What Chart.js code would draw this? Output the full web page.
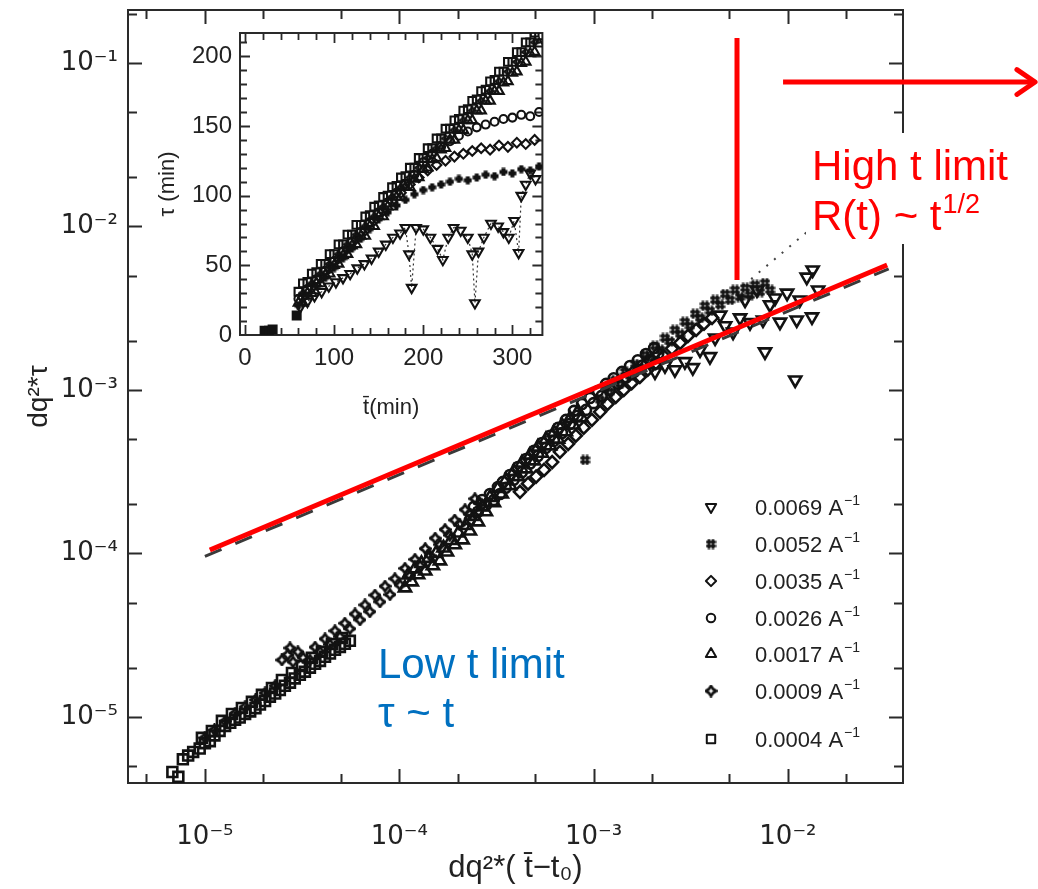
<!DOCTYPE html>
<html><head><meta charset="utf-8">
<script src="https://cdn.jsdelivr.net/npm/chart.js@4.4.1/dist/chart.umd.min.js"></script>
<style>
html,body{margin:0;padding:0;background:#fff;}
#wrap{position:relative;width:1038px;height:889px;overflow:hidden;}
#main{position:absolute;left:0;top:0;width:1038px;height:889px;}
#inset{position:absolute;left:120px;top:14px;width:430px;height:416px;}
</style></head><body>
<div id="wrap"><canvas id="main" width="1038" height="889"></canvas><canvas id="inset" width="430" height="416"></canvas></div>
<script>
// ---------------- DATA (main plot: dq²*(t̄−t0) vs dq²*τ) ----------------
const seriesLabels = ['0.0069', '0.0052', '0.0035', '0.0026', '0.0017', '0.0009', '0.0004'];
const unitLabel = 'A';
const unitSup = '−1';

const m69x = [2.07e-3,2.33e-3,2.62e-3,2.95e-3,3.24e-3,3.53e-3,3.97e-3,4.22e-3,4.48e-3,4.75e-3,5.22e-3,5.67e-3,6.02e-3,6.38e-3,6.93e-3,7.44e-3,7.62e-3,8.09e-3,8.58e-3,9.1e-3,9.9e-3,1.09e-2,1.11e-2,1.15e-2,1.25e-2,1.33e-2,1.34e-2,1.43e-2];
const m69y = [1.29e-3,1.41e-3,1.33e-3,1.49e-3,1.37e-3,1.76e-3,1.6e-3,2.08e-3,2.87e-3,2.47e-3,2.26e-3,2.76e-3,3.55e-3,2.58e-3,4.09e-3,2.68e-3,1.71e-3,3.32e-3,3.65e-3,2.6e-3,3.91e-3,1.15e-3,2.68e-3,3.55e-3,4.9e-3,2.8e-3,5.42e-3,4.09e-3];

const m52x = [9.04e-4,1.08e-3,1.21e-3,1.37e-3,1.54e-3,1.73e-3,1.95e-3,2.2e-3,2.47e-3,2.79e-3,3.13e-3,3.53e-3,3.97e-3,4.48e-3,5.04e-3,5.67e-3,6.38e-3,7.18e-3,8.09e-3,
  1.145e-3,1.29e-3,1.45e-3,1.634e-3,1.84e-3,2.07e-3,2.33e-3,2.62e-3,2.95e-3,3.33e-3,3.74e-3,4.22e-3,4.75e-3,5.34e-3,6.02e-3,6.77e-3,7.62e-3];
const m52y = [3.73e-4,8.69e-4,9.7e-4,1.09e-3,1.22e-3,1.37e-3,1.57e-3,1.76e-3,1.98e-3,2.2e-3,2.47e-3,2.76e-3,3.05e-3,3.32e-3,3.55e-3,3.7e-3,3.8e-3,3.97e-3,4.09e-3,
  1.028e-3,1.15e-3,1.29e-3,1.44e-3,1.64e-3,1.86e-3,2.08e-3,2.33e-3,2.61e-3,2.92e-3,3.27e-3,3.55e-3,3.86e-3,4.09e-3,4.21e-3,4.39e-3,4.51e-3];

const m35x = [4.18e-4,4.6e-4,5.06e-4,5.56e-4,6.12e-4,6.71e-4,7.4e-4,8.1e-4,8.9e-4,9.8e-4,1.08e-3,1.18e-3,1.3e-3,1.43e-3,1.57e-3,1.73e-3,1.9e-3,2.09e-3,2.3e-3,2.53e-3,2.79e-3,3.06e-3,3.37e-3,3.7e-3,4.07e-3];
const m35y = [2.38e-4,2.67e-4,2.95e-4,3.24e-4,3.62e-4,4.18e-4,4.68e-4,5.25e-4,5.88e-4,6.56e-4,7.35e-4,8.2e-4,9.05e-4,1.0e-3,1.1e-3,1.2e-3,1.33e-3,1.46e-3,1.61e-3,1.79e-3,1.94e-3,2.14e-3,2.33e-3,2.54e-3,2.76e-3];

const m26x = [2.31e-4,2.54e-4,2.79e-4,3.07e-4,3.3e-4,3.53e-4,3.88e-4,4.27e-4,4.71e-4,5.17e-4,5.68e-4,6.25e-4,6.87e-4,7.56e-4,8.3e-4,9.14e-4,1.0e-3,1.1e-3,1.21e-3,1.34e-3,1.47e-3,1.62e-3,1.78e-3,1.95e-3,2.15e-3,
  2.42e-4,2.67e-4,2.93e-4,3.22e-4,3.42e-4,3.71e-4,4.08e-4,4.49e-4,4.93e-4,5.43e-4,5.97e-4,6.56e-4,7.21e-4,7.93e-4,8.72e-4,9.58e-4,1.054e-3,1.16e-3,1.27e-3,1.4e-3,1.54e-3,1.69e-3,1.86e-3,2.05e-3];
const m26y = [1.6e-4,1.8e-4,1.97e-4,2.12e-4,2.31e-4,2.52e-4,2.82e-4,3.14e-4,3.55e-4,3.94e-4,4.42e-4,4.88e-4,5.45e-4,6.2e-4,6.95e-4,7.55e-4,8.3e-4,9.2e-4,1.0e-3,1.09e-3,1.19e-3,1.29e-3,1.41e-3,1.52e-3,1.66e-3,
  1.925e-4,2.12e-4,2.31e-4,2.55e-4,2.74e-4,3.02e-4,3.38e-4,3.78e-4,4.24e-4,4.74e-4,5.24e-4,5.86e-4,6.56e-4,7.45e-4,8.2e-4,8.93e-4,9.86e-4,1.089e-3,1.18e-3,1.29e-3,1.4e-3,1.52e-3,1.66e-3,1.807e-3];

const m17x = [1.07e-4,1.16e-4,1.25e-4,1.36e-4,1.49e-4,1.62e-4,1.76e-4,1.93e-4,2.12e-4,2.31e-4,2.54e-4,2.79e-4,3.07e-4,3.37e-4,3.72e-4,4.08e-4,4.49e-4,4.93e-4,5.42e-4,5.97e-4,6.56e-4,7.2e-4,7.9e-4,8.7e-4,
  1.115e-4,1.205e-4,1.301e-4,1.414e-4,1.545e-4,1.689e-4,1.845e-4,2.017e-4,2.204e-4,2.424e-4,2.665e-4,2.93e-4,3.22e-4,3.542e-4,3.893e-4,4.28e-4,4.707e-4,5.175e-4,5.69e-4,6.255e-4,6.877e-4,7.56e-4,8.31e-4];
const m17y = [6.15e-5,6.7e-5,7.4e-5,7.8e-5,8.4e-5,9.0e-5,1.02e-4,1.13e-4,1.21e-4,1.37e-4,1.56e-4,1.8e-4,2.04e-4,2.31e-4,2.6e-4,2.95e-4,3.29e-4,3.68e-4,4.1e-4,4.55e-4,5.0e-4,5.55e-4,6.1e-4,6.75e-4,
  7.39e-5,8.04e-5,8.68e-5,9.32e-5,1.0e-4,1.08e-4,1.2e-4,1.334e-4,1.483e-4,1.684e-4,1.925e-4,2.2e-4,2.498e-4,2.814e-4,3.173e-4,3.577e-4,4.0e-4,4.48e-4,4.98e-4,5.5e-4,6.07e-4,6.69e-4,7.38e-4];

const m09x = [1.0e-5,1.12e-5,1.27e-5,1.43e-5,1.61e-5,1.82e-5,2.04e-5,2.3e-5,2.49e-5,2.67e-5,2.84e-5,3.01e-5,3.2e-5,2.74e-5,3.47e-5,3.91e-5,4.4e-5,4.95e-5,5.57e-5,6.28e-5,7.06e-5,7.96e-5,8.96e-5,1.01e-4,1.135e-4,1.28e-4,1.44e-4,1.62e-4,1.82e-4,2.05e-4,2.31e-4,2.6e-4,3.69e-5,4.15e-5,4.67e-5,5.25e-5,5.92e-5,6.66e-5,7.5e-5,8.45e-5,9.5e-5,1.07e-4,1.205e-4,1.36e-4,1.53e-4,1.72e-4,1.93e-4,2.18e-4,2.45e-4];
const m09y = [7.45e-6,8.32e-6,9.4e-6,1.05e-5,1.15e-5,1.27e-5,1.4e-5,1.55e-5,2.23e-5,2.4e-5,2.17e-5,2.5e-5,2.3e-5,2.64e-5,2.23e-5,2.5e-5,2.77e-5,3.09e-5,3.46e-5,3.92e-5,4.4e-5,5.05e-5,5.6e-5,6.4e-5,7.3e-5,8.4e-5,9.7e-5,1.13e-4,1.29e-4,1.5e-4,1.74e-4,2.02e-4,2.67e-5,3.0e-5,3.36e-5,3.74e-5,4.26e-5,4.84e-5,5.56e-5,6.3e-5,7.0e-5,8.1e-5,9.2e-5,1.07e-4,1.24e-4,1.4e-4,1.6e-4,1.85e-4,2.16e-4];

const m04x = [6.8e-6,7.3e-6,7.7e-6,8.2e-6,8.7e-6,9.4e-6,1.0e-5,1.06e-5,1.12e-5,1.19e-5,1.27e-5,1.35e-5,1.43e-5,1.51e-5,1.61e-5,1.71e-5,1.82e-5,1.92e-5,2.04e-5,2.16e-5,2.3e-5,2.43e-5,2.58e-5,2.74e-5,2.9e-5,3.08e-5,3.27e-5,3.47e-5,3.69e-5,3.91e-5,4.15e-5,4.4e-5,4.67e-5,4.95e-5,5.25e-5,5.57e-5,
  9.65e-6,1.086e-5,1.223e-5,1.377e-5,1.55e-5,1.745e-5,1.965e-5,2.213e-5,2.491e-5,2.805e-5,3.158e-5,3.553e-5,4.0e-5,4.505e-5,5.07e-5];
const m04y = [4.6e-6,4.3e-6,5.5e-6,5.8e-6,6.1e-6,6.4e-6,6.9e-6,7.1e-6,7.7e-6,8.2e-6,8.8e-6,9.2e-6,9.6e-6,9.9e-6,1.04e-5,1.08e-5,1.13e-5,1.19e-5,1.25e-5,1.33e-5,1.39e-5,1.46e-5,1.55e-5,1.62e-5,1.72e-5,1.81e-5,1.89e-5,2.0e-5,2.11e-5,2.2e-5,2.33e-5,2.44e-5,2.57e-5,2.68e-5,2.8e-5,2.92e-5,
  7.44e-6,8.2e-6,9.46e-6,1.042e-5,1.135e-5,1.236e-5,1.364e-5,1.504e-5,1.683e-5,1.858e-5,2.05e-5,2.296e-5,2.5e-5,2.79e-5,3.04e-5];

// guide lines (main plot)
const fitX = [1.06e-5, 3.24e-2],  fitY = [1.05e-4, 5.81e-3];     // red t^1/2 line
const dashX = [1.0e-5, 3.3e-2],   dashY = [9.6e-5, 5.51e-3];     // dashed black line
const dotX = [4.5e-3, 1.3e-2],    dotY = [3.32e-3, 9.6e-3];      // dotted line
const vertX = [5.47e-3, 5.47e-3], vertY = [0.142, 4.71e-3];      // red vertical marker
const arrowX = [9.44e-3, 0.187],  arrowY = [7.65e-2, 7.65e-2];   // red arrow

// axis ranges / ticks (main)
const mainXRange = [4.02e-6, 3.91e-2];
const mainYRange = [3.94e-6, 0.211];
const mainXMajor = [1e-5, 1e-4, 1e-3, 1e-2];
const mainXLabels = ['10⁻⁵', '10⁻⁴', '10⁻³', '10⁻²'];
const mainYMajor = [1e-5, 1e-4, 1e-3, 1e-2, 1e-1];
const mainYLabels = ['10⁻⁵', '10⁻⁴', '10⁻³', '10⁻²', '10⁻¹'];
const mainXMinor = [5e-6, 2e-5, 5e-5, 2e-4, 5e-4, 2e-3, 5e-3, 2e-2];
const mainYMinor = [5e-6, 2e-5, 5e-5, 2e-4, 5e-4, 2e-3, 5e-3, 2e-2, 5e-2, 2e-1];

// ---------------- DATA (inset: t̄ vs τ, minutes) ----------------
const i69t = [62,70,78,86,94,102,110,118,126,134,142,150,158,166,174,180,184,187,192,200,208,216,222,228,234,242,250,255,258,262,268,276,284,290,296,302,307,310,315,320,326];
const i69tau = [20,24,28,31,35,38,41,44,48,51,55,60,65,70,73,77,58,34,77,76,70,62,54,70,77,75,70,58,23,60,70,80,78,74,70,82,59,100,108,116,112];
const i52t = [60,70,80,90,100,110,120,130,140,150,160,170,180,190,200,210,220,230,240,250,260,270,280,290,300,310,320,330];
const i52tau = [21,28,35,41,48,55,62,69,76,83,88,93,97,101,104,106,108,110,112,111,113,115,114,117,116,119,118,121];
const i35t = [65,75,85,95,105,115,125,135,145,155,165,175,185,195,205,215,225,235,245,255,265,275,285,295,305,315,325];
const i35tau = [27,34,41,48,55,62,69,75,82,89,96,102,108,113,118,122,125,128,130,132,134,133,136,135,138,137,140];
const i26t = [60,70,80,90,100,110,120,130,140,150,160,170,180,190,200,210,220,230,240,250,260,270,280,290,300,310,320,330];
const i26tau = [26,33,40,46,53,60,67,74,81,88,95,102,108,115,124,130,135,139,143,146,149,151,153,155,156,158,157,160];
const i17t = [60,70,80,90,100,110,120,130,140,150,160,170,180,190,200,210,220,230,240,250,260,270,280,290,300,310,320,330,
  65,75,85,95,105,115,125,135,145,155,165,175,185,195,205,215,225,235,245,255,265,275,285,295,305,315,325];
const i17tau = [23,30,37,43,50,57,64,71,78,85,92,99,106,112,119,126,133,140,147,154,161,168,175,181,188,195,202,209,
  23,30,37,44,51,58,65,71,78,85,92,99,106,113,120,127,134,140,147,154,161,168,175,182,189,196,203];
const i09t = [65,75,85,95,105,115,125,135,145,155,165,175,185,195,205,215,225,235,245,255,265,275,285,295,305,315,325];
const i09tau = [30,37,44,51,58,65,72,78,85,92,99,106,113,120,127,134,141,147,154,161,168,175,182,189,196,203,210];
const i04t = [60,70,80,90,100,110,120,130,140,150,160,170,180,190,200,210,220,230,240,250,260,270,280,290,300,310,320,330,
  65,75,85,95,105,115,125,135,145,155,165,175,185,195,205,215,225,235,245,255,265,275,285,295,305,315,325];
const i04tau = [31,38,45,51,58,65,72,79,86,93,100,107,114,120,127,134,141,148,155,162,169,176,183,189,196,203,210,215,
  37,44,51,58,65,72,79,85,92,99,106,113,120,127,134,141,148,154,161,168,175,182,189,196,203,210,217];
const iEarlyT = [22, 27, 31, 58];
const iEarlyTau = [3, 3, 4, 14];

const insetXRange = [-5.6, 333.7];
const insetYRange = [0, 216.7];
const insetXMajor = [0, 100, 200, 300];
const insetYMajor = [0, 50, 100, 150, 200];
const insetXMinor = [20,40,60,80,120,140,160,180,220,240,260,280,320];
const insetYMinor = [10,20,30,40,60,70,80,90,110,120,130,140,160,170,180,190,210];

// ---------------- TEXT ----------------
const mainXTitle = 'dq²*( t\u0304−t₀)';
const mainYTitle = 'dq²*τ';
const insetXTitle = 't\u0304(min)';
const insetYTitle = 'τ (min)';
const highText1 = 'High t limit', highText2 = 'R(t) ~ t', highSup = '1/2';
const lowText1 = 'Low t limit', lowText2 = 'τ ~ t';

// ---------------- STYLE ----------------
const FONT = "'Liberation Sans', Arial, Helvetica, sans-serif";
const TICKFONT = "'DejaVu Sans', 'Liberation Sans', sans-serif";
const INK = '#121212';
const RED = '#ff0000';
const BLUE = '#0070c0';
const CLEAR = 'rgba(255,255,255,0)';

function hashMarker(size, lw) {
  const c = document.createElement('canvas'); c.width = c.height = size;
  const g = c.getContext('2d'); g.strokeStyle = INK; g.lineWidth = lw;
  const a = Math.round(size * 0.3) + 0.5, b = Math.round(size * 0.7) - 0.5;
  g.beginPath();
  g.moveTo(a, 0.5); g.lineTo(a, size - 0.5); g.moveTo(b, 0.5); g.lineTo(b, size - 0.5);
  g.moveTo(0.5, a); g.lineTo(size - 0.5, a); g.moveTo(0.5, b); g.lineTo(size - 0.5, b);
  g.stroke(); return c;
}
function starMarker(size, lw) {
  const c = document.createElement('canvas'); c.width = c.height = size;
  const g = c.getContext('2d'); g.strokeStyle = INK; g.lineWidth = lw; g.lineJoin = 'round';
  const m = size / 2, R = size / 2 - lw / 2, r = R * 0.55;
  g.beginPath();
  for (let i = 0; i < 8; i++) {
    const ang = -Math.PI / 2 + i * Math.PI / 4, rad = i % 2 === 0 ? R : r;
    const px = m + rad * Math.cos(ang), py = m + rad * Math.sin(ang);
    if (i) g.lineTo(px, py); else g.moveTo(px, py);
  }
  g.closePath(); g.stroke(); return c;
}

const mainStyles = [
  { ps: 'triangle', rot: 180, r: 7 },
  { ps: hashMarker(11, 2.5), rot: 0, r: 6 },
  { ps: 'rectRot', rot: 0, r: 6 },
  { ps: 'circle', rot: 0, r: 5 },
  { ps: 'triangle', rot: 0, r: 7 },
  { ps: starMarker(13, 2.7), rot: 0, r: 6 },
  { ps: 'rect', rot: 0, r: 7 }
];
const insetStyles = [
  { ps: 'triangle', rot: 180, r: 5.5 },
  { ps: hashMarker(9, 2), rot: 0, r: 5 },
  { ps: 'rectRot', rot: 0, r: 4.8 },
  { ps: 'circle', rot: 0, r: 4 },
  { ps: 'triangle', rot: 0, r: 5.5 },
  { ps: starMarker(10, 2.2), rot: 0, r: 5 },
  { ps: 'rect', rot: 0, r: 5.5 }
];

const mk = (xs, ys) => xs.map((v, i) => ({ x: v, y: ys[i] }));
const lineDS = (xs, ys, color, width, dash, extra) => Object.assign({
  data: mk(xs, ys), showLine: true, pointRadius: 0, borderColor: color, borderWidth: width,
  borderDash: dash || [], fill: false, tension: 0, borderCapStyle: 'butt'
}, extra || {});

const mainSeries = [[m69x, m69y], [m52x, m52y], [m35x, m35y], [m26x, m26y], [m17x, m17y], [m09x, m09y], [m04x, m04y]];
const insetSeries = [[i69t, i69tau], [i52t, i52tau], [i35t, i35tau], [i26t, i26tau], [i17t, i17tau], [i09t, i09tau], [i04t, i04tau]];

const seriesDS = (pair, st, bw, label) => ({
  label: label, isSeries: true,
  data: mk(pair[0], pair[1]), showLine: false,
  pointStyle: st.ps, rotation: st.rot, pointRadius: st.r,
  pointBorderColor: INK, pointBackgroundColor: CLEAR, pointBorderWidth: bw
});

const mainDatasets = [
  lineDS(fitX, fitY, RED, 5),
  lineDS(vertX, vertY, RED, 5),
  lineDS(arrowX, arrowY, RED, 5, null, { clip: false, isArrow: true }),
  lineDS(dashX, dashY, '#3a3a3a', 3, [18, 15])
].concat(mainSeries.map((p, i) => seriesDS(p, mainStyles[i], 2.6, seriesLabels[i])))
 .concat([lineDS(dotX, dotY, '#444', 2, [2, 8])]);

// ---------------- PLUGINS ----------------
const zeroPad = s => { s.paddingTop = 0; s.paddingBottom = 0; s.paddingLeft = 0; s.paddingRight = 0; };

const framePlugin = {
  id: 'frame',
  beforeDatasetsDraw(chart, args, o) {
    const { ctx, chartArea: a, scales: { x, y } } = chart;
    ctx.save();
    ctx.strokeStyle = o.color; ctx.lineWidth = o.tickWidth; ctx.lineCap = 'butt';
    ctx.beginPath();
    const xt = o.xMajor.map(v => [v, o.majorLen]).concat(o.xMinor.map(v => [v, o.minorLen]));
    const yt = o.yMajor.map(v => [v, o.majorLen]).concat(o.yMinor.map(v => [v, o.minorLen]));
    xt.forEach(([v, L]) => {
      const p = Math.round(x.getPixelForValue(v)) + 0.5;
      if (p < a.left || p > a.right) return;
      ctx.moveTo(p, a.bottom); ctx.lineTo(p, a.bottom - L);
      ctx.moveTo(p, a.top); ctx.lineTo(p, a.top + L);
    });
    yt.forEach(([v, L]) => {
      const p = Math.round(y.getPixelForValue(v)) + 0.5;
      if (p < a.top || p > a.bottom) return;
      ctx.moveTo(a.left, p); ctx.lineTo(a.left + L, p);
      ctx.moveTo(a.right, p); ctx.lineTo(a.right - L, p);
    });
    ctx.stroke();
    ctx.lineWidth = o.frameWidth;
    ctx.strokeRect(a.left, a.top, a.right - a.left, a.bottom - a.top);
    ctx.restore();
  }
};

function supText(ctx, x, y, base, sup, size, supSize, rise, color) {
  ctx.fillStyle = color; ctx.textAlign = 'left'; ctx.textBaseline = 'alphabetic';
  ctx.font = size + 'px ' + FONT; ctx.fillText(base, x, y);
  const w = ctx.measureText(base).width;
  ctx.font = supSize + 'px ' + FONT; ctx.fillText(sup, x + w + 1, y - rise);
}

const notesPlugin = {
  id: 'notes',
  afterDatasetsDraw(chart, args, o) {
    const ctx = chart.ctx;
    ctx.save();
    // arrow head on the arrow dataset
    chart.data.datasets.forEach((ds, di) => {
      if (!ds.isArrow) return;
      const pts = chart.getDatasetMeta(di).data;
      const a = pts[0], b = pts[pts.length - 1];
      const ang = Math.atan2(b.y - a.y, b.x - a.x), L = 22, s = 0.6;
      ctx.strokeStyle = RED; ctx.lineWidth = 5; ctx.lineCap = 'round'; ctx.lineJoin = 'round';
      ctx.beginPath();
      ctx.moveTo(b.x - L * Math.cos(ang - s), b.y - L * Math.sin(ang - s));
      ctx.lineTo(b.x, b.y);
      ctx.lineTo(b.x - L * Math.cos(ang + s), b.y - L * Math.sin(ang + s));
      ctx.stroke();
    });
    // legend
    let row = 0;
    chart.data.datasets.forEach((ds) => {
      if (!ds.isSeries) return;
      const yy = o.legendRows[row++];
      ctx.fillStyle = CLEAR; ctx.strokeStyle = INK; ctx.lineWidth = 2;
      Chart.helpers.drawPoint(ctx, { pointStyle: ds.pointStyle, rotation: ds.rotation, radius: ds.pointRadius * 0.85, borderWidth: 2 }, o.legendX, yy);
      supText(ctx, o.legendTextX, yy + 8, ds.label + ' ' + unitLabel, unitSup, 22, 14, 10, '#222');
    });
    // High t box
    ctx.fillStyle = '#fff';
    ctx.fillRect(806, 133, 206, 111);
    ctx.fillStyle = RED; ctx.font = '42px ' + FONT; ctx.textAlign = 'left'; ctx.textBaseline = 'alphabetic';
    ctx.fillText(highText1, 812, 180);
    supText(ctx, 812, 230, highText2, highSup, 42, 27, 17, RED);
    // Low t
    ctx.fillStyle = BLUE; ctx.font = '42px ' + FONT;
    ctx.fillText(lowText1, 378, 678);
    ctx.fillText(lowText2, 378, 727);
    ctx.restore();
  }
};

// ---------------- MAIN CHART ----------------
new Chart(document.getElementById('main'), {
  type: 'scatter',
  data: { datasets: mainDatasets },
  options: {
    responsive: false, animation: false, events: [],
    layout: { padding: { top: 10, right: 135, bottom: 0, left: 0 } },
    scales: {
      x: {
        type: 'logarithmic', min: mainXRange[0], max: mainXRange[1],
        afterFit: s => { s.height = 106; zeroPad(s); },
        afterBuildTicks: s => { s.ticks = mainXMajor.map(v => ({ value: v })); },
        ticks: { callback: v => mainXLabels[mainXMajor.indexOf(v)], font: { family: TICKFONT, size: 26 }, color: '#222', padding: 39, maxRotation: 0, autoSkip: false },
        grid: { display: false, drawTicks: false }, border: { display: false },
        title: { display: true, text: mainXTitle, font: { family: FONT, size: 31 }, color: '#222', padding: { top: 0, bottom: 2 } }
      },
      y: {
        type: 'logarithmic', min: mainYRange[0], max: mainYRange[1],
        afterFit: s => { s.width = 128; zeroPad(s); },
        afterBuildTicks: s => { s.ticks = mainYMajor.map(v => ({ value: v })); },
        ticks: { callback: v => mainYLabels[mainYMajor.indexOf(v)], font: { family: TICKFONT, size: 26 }, color: '#222', padding: 10, autoSkip: false },
        grid: { display: false, drawTicks: false }, border: { display: false },
        title: { display: true, text: mainYTitle, font: { family: FONT, size: 28 }, color: '#222', padding: { top: 22, bottom: 0 } }
      }
    },
    plugins: {
      legend: { display: false }, tooltip: { enabled: false },
      frame: { xMajor: mainXMajor, xMinor: mainXMinor, yMajor: mainYMajor, yMinor: mainYMinor, majorLen: 14, minorLen: 9, tickWidth: 2, frameWidth: 2, color: '#2a2a2a' },
      notes: { legendRows: [507, 544, 581, 618, 654, 691, 739], legendX: 711, legendTextX: 755 }
    }
  },
  plugins: [framePlugin, notesPlugin]
});

// ---------------- INSET CHART ----------------
const insetDatasets = insetSeries.map((p, i) => {
  const d = seriesDS(p, insetStyles[i], 2.1, seriesLabels[i]);
  d.isSeries = false;
  if (i === 0) { d.showLine = true; d.borderColor = '#333'; d.borderWidth = 1.2; d.borderDash = [2, 3]; d.tension = 0; }
  return d;
}).concat([{
  data: mk(iEarlyT, iEarlyTau), showLine: false, pointStyle: 'rect', pointRadius: 6,
  pointBorderColor: INK, pointBackgroundColor: INK, pointBorderWidth: 1.5
}]);

new Chart(document.getElementById('inset'), {
  type: 'scatter',
  data: { datasets: insetDatasets },
  options: {
    responsive: false, animation: false, events: [],
    layout: { padding: { top: 19, right: 7, bottom: 0, left: 0 } },
    scales: {
      x: {
        type: 'linear', min: insetXRange[0], max: insetXRange[1],
        afterFit: s => { s.height = 95; zeroPad(s); },
        afterBuildTicks: s => { s.ticks = insetXMajor.map(v => ({ value: v })); },
        ticks: { font: { family: FONT, size: 24 }, color: '#222', padding: 9, maxRotation: 0, autoSkip: false },
        grid: { display: false, drawTicks: false }, border: { display: false },
        title: { display: true, text: insetXTitle, font: { family: FONT, size: 22 }, color: '#222', padding: { top: 0, bottom: 9 } }
      },
      y: {
        type: 'linear', min: insetYRange[0], max: insetYRange[1],
        afterFit: s => { s.width = 120; zeroPad(s); },
        afterBuildTicks: s => { s.ticks = insetYMajor.map(v => ({ value: v })); },
        ticks: { font: { family: FONT, size: 24 }, color: '#222', padding: 8, autoSkip: false },
        grid: { display: false, drawTicks: false }, border: { display: false },
        title: { display: true, text: insetYTitle, font: { family: FONT, size: 22 }, color: '#222', padding: { top: 35, bottom: 0 } }
      }
    },
    plugins: {
      legend: { display: false }, tooltip: { enabled: false },
      frame: { xMajor: insetXMajor, xMinor: insetXMinor, yMajor: insetYMajor, yMinor: insetYMinor, majorLen: 10, minorLen: 7, tickWidth: 1.8, frameWidth: 2, color: '#2a2a2a' }
    }
  },
  plugins: [framePlugin]
});
</script>
</body></html>
